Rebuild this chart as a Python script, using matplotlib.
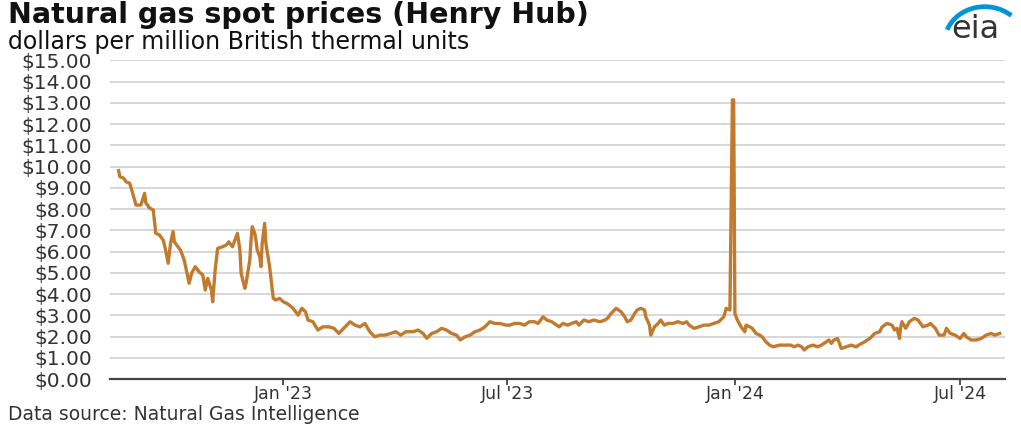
import matplotlib
matplotlib.use("Agg")
import matplotlib.pyplot as plt
from matplotlib.patches import Arc
import pandas as pd

# Henry Hub spot price, dollars per MMBtu
price_dates = [
    "2022-08-21", "2022-08-22", "2022-08-25", "2022-08-27", "2022-08-30", "2022-09-01",
    "2022-09-04", "2022-09-08", "2022-09-11", "2022-09-12", "2022-09-15", "2022-09-18",
    "2022-09-20", "2022-09-23", "2022-09-26", "2022-09-28", "2022-09-30", "2022-10-02",
    "2022-10-04", "2022-10-05", "2022-10-08", "2022-10-10", "2022-10-13", "2022-10-17",
    "2022-10-19", "2022-10-22", "2022-10-25", "2022-10-28", "2022-10-30", "2022-11-01",
    "2022-11-04", "2022-11-05", "2022-11-07", "2022-11-09", "2022-11-13", "2022-11-16",
    "2022-11-18", "2022-11-21", "2022-11-24", "2022-11-25", "2022-11-27", "2022-11-28",
    "2022-12-01", "2022-12-02", "2022-12-05", "2022-12-06", "2022-12-07", "2022-12-09",
    "2022-12-10", "2022-12-11", "2022-12-13", "2022-12-14", "2022-12-15", "2022-12-17",
    "2022-12-18", "2022-12-21", "2022-12-24", "2022-12-26", "2022-12-29", "2023-01-01",
    "2023-01-04", "2023-01-06", "2023-01-09", "2023-01-13", "2023-01-16", "2023-01-19",
    "2023-01-21", "2023-01-25", "2023-01-29", "2023-02-02", "2023-02-07", "2023-02-11",
    "2023-02-15", "2023-02-20", "2023-02-24", "2023-02-28", "2023-03-04", "2023-03-08",
    "2023-03-12", "2023-03-16", "2023-03-20", "2023-03-24", "2023-03-29", "2023-04-02",
    "2023-04-06", "2023-04-10", "2023-04-16", "2023-04-20", "2023-04-24", "2023-04-27",
    "2023-05-01", "2023-05-05", "2023-05-09", "2023-05-13", "2023-05-17", "2023-05-21",
    "2023-05-24", "2023-05-28", "2023-06-01", "2023-06-05", "2023-06-09", "2023-06-13",
    "2023-06-17", "2023-06-21", "2023-06-25", "2023-06-30", "2023-07-03", "2023-07-07",
    "2023-07-11", "2023-07-15", "2023-07-19", "2023-07-23", "2023-07-26", "2023-07-30",
    "2023-08-02", "2023-08-06", "2023-08-10", "2023-08-12", "2023-08-15", "2023-08-19",
    "2023-08-22", "2023-08-26", "2023-08-28", "2023-09-01", "2023-09-05", "2023-09-09",
    "2023-09-14", "2023-09-18", "2023-09-20", "2023-09-23", "2023-09-27", "2023-10-01",
    "2023-10-04", "2023-10-06", "2023-10-09", "2023-10-12", "2023-10-14", "2023-10-17",
    "2023-10-20", "2023-10-21", "2023-10-24", "2023-10-25", "2023-10-28", "2023-10-31",
    "2023-11-02", "2023-11-05", "2023-11-08", "2023-11-12", "2023-11-16", "2023-11-20",
    "2023-11-23", "2023-11-25", "2023-11-29", "2023-12-03", "2023-12-07", "2023-12-11",
    "2023-12-15", "2023-12-19", "2023-12-23", "2023-12-25", "2023-12-28", "2023-12-30",
    "2023-12-31", "2024-01-01", "2024-01-03", "2024-01-06", "2024-01-09", "2024-01-10",
    "2024-01-13", "2024-01-15", "2024-01-18", "2024-01-21", "2024-01-23", "2024-01-26",
    "2024-01-29", "2024-02-01", "2024-02-06", "2024-02-11", "2024-02-15", "2024-02-18",
    "2024-02-21", "2024-02-24", "2024-02-26", "2024-02-29", "2024-03-04", "2024-03-08",
    "2024-03-11", "2024-03-13", "2024-03-17", "2024-03-19", "2024-03-21", "2024-03-24",
    "2024-03-27", "2024-03-31", "2024-04-04", "2024-04-08", "2024-04-10", "2024-04-15",
    "2024-04-19", "2024-04-23", "2024-04-27", "2024-04-29", "2024-05-03", "2024-05-07",
    "2024-05-09", "2024-05-11", "2024-05-13", "2024-05-14", "2024-05-15", "2024-05-18",
    "2024-05-21", "2024-05-25", "2024-05-28", "2024-06-01", "2024-06-05", "2024-06-07",
    "2024-06-11", "2024-06-14", "2024-06-18", "2024-06-20", "2024-06-23", "2024-06-27",
    "2024-07-01", "2024-07-04", "2024-07-06", "2024-07-10", "2024-07-14", "2024-07-18",
    "2024-07-22", "2024-07-26", "2024-07-29", "2024-08-02",
]
price_values = [
    9.81, 9.52, 9.46, 9.29, 9.21, 8.82,
    8.19, 8.19, 8.74, 8.29, 8.05, 7.96,
    6.87, 6.78, 6.54, 6.07, 5.45, 6.40,
    6.94, 6.46, 6.23, 6.07, 5.60, 4.51,
    4.99, 5.29, 5.05, 4.90, 4.19, 4.74,
    4.19, 3.64, 5.13, 6.15, 6.23, 6.31,
    6.46, 6.23, 6.70, 6.86, 6.07, 4.98,
    4.27, 4.51, 5.60, 6.54, 7.17, 6.86,
    6.54, 6.07, 5.76, 5.29, 6.39, 7.33,
    6.39, 5.29, 3.80, 3.72, 3.80, 3.64,
    3.56, 3.48, 3.33, 3.01, 3.33, 3.17,
    2.78, 2.70, 2.31, 2.46, 2.46, 2.39,
    2.15, 2.46, 2.70, 2.54, 2.46, 2.62,
    2.23, 1.99, 2.07, 2.07, 2.15, 2.23,
    2.07, 2.23, 2.23, 2.31, 2.15, 1.92,
    2.15, 2.23, 2.39, 2.31, 2.15, 2.07,
    1.84, 1.99, 2.07, 2.23, 2.31, 2.46,
    2.70, 2.62, 2.62, 2.54, 2.54, 2.62,
    2.62, 2.54, 2.70, 2.70, 2.62, 2.93,
    2.78, 2.70, 2.54, 2.46, 2.62, 2.54,
    2.62, 2.70, 2.54, 2.78, 2.70, 2.78,
    2.70, 2.78, 2.86, 3.09, 3.33, 3.17,
    2.93, 2.70, 2.78, 3.09, 3.25, 3.33,
    3.25, 2.93, 2.54, 2.07, 2.46, 2.62,
    2.78, 2.54, 2.62, 2.62, 2.70, 2.62,
    2.70, 2.54, 2.39, 2.46, 2.54, 2.54,
    2.62, 2.70, 2.93, 3.33, 3.25, 13.14,
    13.14, 3.09, 2.78, 2.46, 2.23, 2.54,
    2.46, 2.39, 2.15, 2.07, 1.99, 1.76,
    1.60, 1.52, 1.60, 1.60, 1.60, 1.52,
    1.60, 1.52, 1.37, 1.52, 1.60, 1.52,
    1.60, 1.68, 1.84, 1.68, 1.84, 1.91,
    1.44, 1.52, 1.60, 1.52, 1.60, 1.76,
    1.91, 2.15, 2.23, 2.46, 2.62, 2.54,
    2.31, 2.39, 1.91, 2.46, 2.70, 2.39,
    2.70, 2.86, 2.78, 2.46, 2.54, 2.62,
    2.39, 2.07, 2.07, 2.39, 2.15, 2.07,
    1.91, 2.15, 1.99, 1.84, 1.84, 1.91,
    2.07, 2.15, 2.07, 2.15,
]

tick_dates = ["2023-01-01", "2023-07-01", "2024-01-01", "2024-07-01"]
tick_labels = ["Jan '23", "Jul '23", "Jan '24", "Jul '24"]
y_ticks = list(range(0, 16))

line_color = "#C27A2E"
text_color = "#333333"

plt.rcParams["font.family"] = ["DejaVu Sans"]

fig = plt.figure(figsize=(10.21, 4.25), dpi=100)
ax = fig.add_axes([0.1077, 0.108, 0.8763, 0.75])

ax.plot(pd.to_datetime(price_dates), price_values, color=line_color, linewidth=2.4,
        solid_joinstyle="round")

ax.set_xlim(pd.Timestamp("2022-08-14"), pd.Timestamp("2024-08-06"))
ax.set_ylim(0, 15)
ax.set_yticks(y_ticks)
ax.set_yticklabels([f"${v:.2f}" for v in y_ticks])
ax.set_xticks(pd.to_datetime(tick_dates))
ax.set_xticklabels(tick_labels)

ax.grid(axis="y", color="#d4d4d4", linewidth=1.3)
ax.set_axisbelow(True)
for side in ["top", "right", "left"]:
    ax.spines[side].set_visible(False)
ax.spines["bottom"].set_color("#444444")
ax.spines["bottom"].set_linewidth(1.6)
ax.tick_params(axis="y", length=0, pad=13, labelsize=14.5, labelcolor=text_color)
ax.tick_params(axis="x", length=4, width=1.3, color="#444444", pad=0.5,
               labelsize=12.5, labelcolor=text_color)

fig.text(0.008, 0.998, "Natural gas spot prices (Henry Hub)", fontsize=20.5,
         fontweight="bold", color="#111111", va="top", ha="left")
fig.text(0.008, 0.93, "dollars per million British thermal units", fontsize=17,
         color="#111111", va="top", ha="left")
fig.text(0.008, 0.011, "Data source: Natural Gas Intelligence", fontsize=13.5,
         color=text_color, va="baseline", ha="left")

# eia logo
logo = fig.add_axes([0.918, 0.895, 0.075, 0.105])
logo.set_xlim(0, 1)
logo.set_ylim(0, 1)
logo.axis("off")
logo.text(0.5, 0.0, "eia", fontsize=23, color="#333333", ha="center", va="bottom")
logo.add_patch(Arc((0.62, 0.05), 1.05, 1.6, theta1=60, theta2=150,
                   color="#0096D6", linewidth=3.4))

fig.savefig("out.png", dpi=100)
